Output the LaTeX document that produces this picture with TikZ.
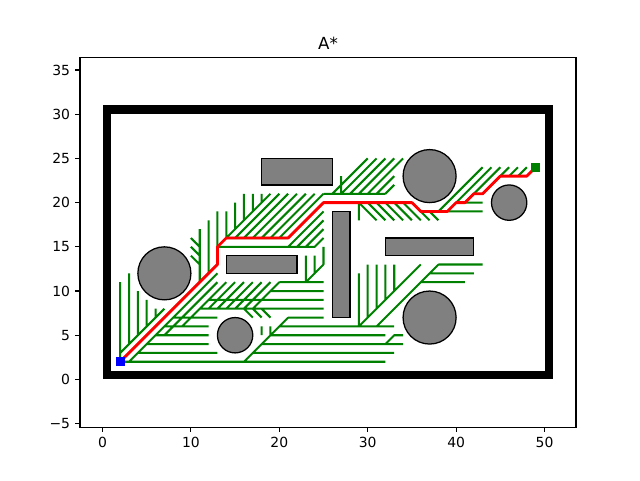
\documentclass[tikz,border=0pt]{standalone}
\usepackage{fontspec}
\setmainfont{DejaVu Sans}
\definecolor{mplgreen}{rgb}{0,0.5,0}
\definecolor{obsgray}{rgb}{0.5,0.5,0.5}
\begin{document}
\begin{tikzpicture}[x=0.221cm,y=0.221cm,
  spine/.style={line width=0.79pt},
  tickmark/.style={line width=0.79pt},
  ticklabel/.style={inner sep=0pt,font=\fontsize{9.9}{12}\selectfont},
  wall/.style={fill=black},
  obstacle/.style={fill=obsgray,draw=black,line width=0.9pt},
  tree/.style={draw=mplgreen,line width=1.45pt},
  pathline/.style={draw=red,line width=2pt,line join=round},
  startmark/.style={fill=blue},
  goalmark/.style={fill=mplgreen}]
\useasboundingbox (-11.595,-11.38) rectangle (60.80,42.92);

% axes frame
\draw[spine] (-2.545,-5.41) rectangle (53.56,36.40);
\foreach \v in {0,10,20,30,40,50}{
  \draw[tickmark] (\v,-5.41) -- (\v,-5.96);
  \node[ticklabel,anchor=north] (xt\v) at (\v,-6.51) {\v};
}
\foreach \v/\t in {-5/−5,0/0,5/5,10/10,15/15,20/20,25/25,30/30,35/35}{
  \draw[tickmark] (-2.545,\v) -- (-3.095,\v);
  \node[ticklabel,anchor=east] at (-3.64,\v) {\t};
}
\node[inner sep=0pt,anchor=base,font=\fontsize{11.85}{14}\selectfont] (title) at (25.51,37.34) {A*};

% walls
\fill[wall] (0,0) rectangle (1,30);
\fill[wall] (0,30) rectangle (50,31);
\fill[wall] (1,0) rectangle (51,1);
\fill[wall] (50,1) rectangle (51,31);

% obstacles
\draw[obstacle] (14,12) rectangle (22,14);
\draw[obstacle] (18,22) rectangle (26,25);
\draw[obstacle] (26,7) rectangle (28,19);
\draw[obstacle] (32,14) rectangle (42,16);
\draw[obstacle] (7,12) circle (3);
\draw[obstacle] (46,20) circle (2);
\draw[obstacle] (15,5) circle (2);
\draw[obstacle] (37,7) circle (3);
\draw[obstacle] (37,23) circle (3);

% explored tree
\path[tree]
 (2,2)--(32,2) (2,2)--(2,11) (2,2)--(13,13)
 (2,3)--(7,8) (3,4)--(3,12) (4,5)--(4,10) (5,6)--(5,9) (6,7)--(6,8)
 (3,2)--(13,12) (7,5)--(13,11) (9,6)--(14,11) (12,8)--(15,11)
 (13,8)--(16,11) (14,8)--(17,11) (15,8)--(18,11) (16,8)--(19,11) (17,8)--(20,11)
 (4,3)--(13,3) (17,3)--(33,3)
 (5,4)--(12,4) (18,4)--(34,4)
 (6,5)--(12,5) (19,5)--(32,5)
 (7,6)--(12,6) (20,6)--(33,6)
 (8,7)--(13,7) (21,7)--(25,7)
 (11,8)--(25,8) (12,9)--(25,9) (19,10)--(25,10) (20,11)--(25,11)
 (16,2)--(21,7) (32,4)--(33,5)--(34,5)
 (16,8)--(17,7) (17,8)--(18,7) (18,8)--(19,7)
 (18,5)--(18,6) (19,5)--(19,6)
 (23,11)--(25,13) (23,11)--(23,14) (24,12)--(24,14) (25,13)--(25,15)
 (11,11)--(11,17) (12,12)--(12,18) (13,13)--(13,19) (14,16)--(14,19)
 (15,17)--(15,20) (16,18)--(16,21) (17,19)--(17,21) (18,20)--(18,21)
 (10,16)--(11,15) (10,15)--(11,14) (10,14)--(11,13)
 (13,15)--(24,15)--(25,16)
 (14,16)--(19,21) (15,16)--(20,21) (16,16)--(21,21) (17,16)--(22,21)
 (18,16)--(23,21) (19,16)--(24,21) (20,16)--(25,21) (21,16)--(25,20)
 (14,16)--(21,16)
 (21,15)--(25,19) (22,15)--(25,18) (23,15)--(25,17)
 (25,20)--(35,20) (25,21)--(32,21) (27,21)--(27,23)
 (26,21)--(30,25) (27,21)--(31,25) (28,21)--(32,25) (29,21)--(33,25) (30,21)--(34,25)
 (31,21)--(33,23) (32,21)--(33,22)
 (29,20)--(29,18)
 (29,20)--(31,18) (30,20)--(32,18) (31,20)--(33,18) (32,20)--(34,18)
 (33,20)--(35,18) (34,20)--(36,18) (35,20)--(37,18) (37,19)--(38,18)
 (39,19)--(43,19) (40,20)--(43,20)
 (38,19)--(43,24) (39,19)--(44,24) (41,20)--(45,24) (43,21)--(46,24)
 (46,23)--(47,24) (47,23)--(48,24)
 (29,6)--(36,13) (31,6)--(38,13)
 (29,6)--(29,12) (30,7)--(30,13) (31,8)--(31,13) (32,9)--(32,13) (33,10)--(33,13)
 (36,11)--(41,11) (37,12)--(42,12) (38,13)--(43,13);

% final path
\draw[pathline] (2,2)--(13,13)--(13,15)--(14,16)--(21,16)--(25,20)--(35,20)--(36,19)--(39,19)--(40,20)--(41,20)--(42,21)--(43,21)--(45,23)--(48,23)--(49,24);

% start and goal markers
\fill[startmark] (1.48,1.48) rectangle (2.52,2.52);
\fill[goalmark] (48.48,23.48) rectangle (49.52,24.52);
\end{tikzpicture}
\end{document}
